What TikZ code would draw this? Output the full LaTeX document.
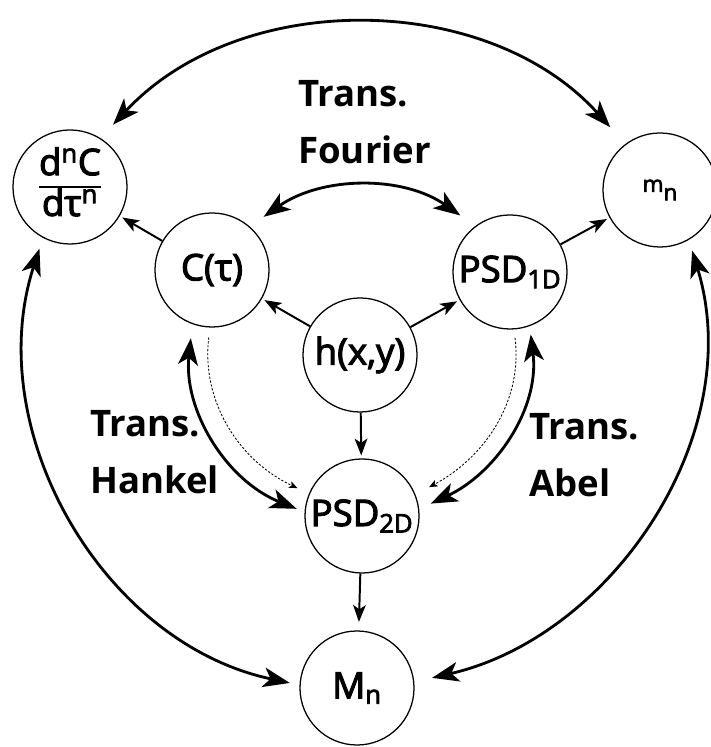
\documentclass[tikz,border=0pt]{standalone}
\usepackage{fontspec}
\setmainfont{Open Sans}
\newfontface\nodefont{Open Sans}[FakeBold=3]
\usetikzlibrary{arrows.meta,positioning}

\setlength\arrayrulewidth{1.6pt}
\tikzset{
  etat/.style={circle,draw,line width=0.9pt,minimum size=2.85cm,inner sep=0pt,font=\nodefont\fontsize{26}{30}\selectfont},
  fleche/.style={line width=1.4pt,shorten >=2pt,-{Stealth[length=12pt,width=9pt,inset=3pt]}},
  grande/.style={line width=2pt,{Stealth[length=19pt,width=14pt,inset=5pt]}-{Stealth[length=19pt,width=14pt,inset=5pt]}},
  pointille/.style={line width=0.6pt,dash pattern=on 1.6pt off 1.2pt,-{Stealth[length=6pt,width=5pt,inset=1.5pt]}},
  trans/.style={align=left,inner sep=0pt,anchor=north west,font=\bfseries\fontsize{26}{40.5}\selectfont},
}

\begin{document}
\begin{tikzpicture}[x=0.025cm,y=0.025cm]
  \useasboundingbox (0,0) rectangle (710,747);
  % les grandeurs
  \node[etat] (hxy) at (360,392) {h(x,y)};
  \node[etat] (ctau) at (212,477) {C(τ)};
  \node[etat] (psdun) at (510,475) {PSD\textsubscript{1D}};
  \node[etat] (psddeux) at (362,231) {PSD\textsubscript{2D}};
  \node[etat] (Mn) at (357,59) {M\textsubscript{n}};
  \node[etat] (dnc) at (70,560) {\renewcommand\arraystretch{0.85}\begin{tabular}{@{}c@{}}d\textsuperscript{n}C\\\hline dτ\textsuperscript{n}\end{tabular}};
  \node[etat] (mn) at (660,557) {\fontsize{16}{18}\selectfont m\raisebox{-6pt}{n}};
  % fleches simples
  \draw[fleche] (ctau) -- (dnc);
  \draw[fleche] (psdun) -- (mn);
  \draw[fleche] (hxy) -- (ctau);
  \draw[fleche] (hxy) -- (psdun);
  \draw[fleche] (hxy) -- (psddeux);
  \draw[fleche,shorten >=6pt] (psddeux) -- (Mn);
  % transformations
  \draw[grande,shorten <=12pt,shorten >=13pt] (ctau.49) to[out=35,in=145] (psdun.127);
  \draw[grande,shorten <=10pt,shorten >=6pt] (ctau.250) to[out=264,in=158] (psddeux.176);
  \draw[grande,shorten <=6pt,shorten >=9pt] (psdun.290) to[out=277,in=25] (psddeux.7);
  \draw[pointille,shorten <=7pt,shorten >=9pt] (ctau.268) to[out=263,in=155] (psddeux.157);
  \draw[pointille,shorten <=6pt,shorten >=11pt] (psdun.274) to[out=277,in=28] (psddeux.22);
  % grands arcs
  \draw[grande,shorten <=13pt,shorten >=16pt] (dnc.58) to[out=47,in=132] (mn.127);
  \draw[grande,shorten <=8pt,shorten >=7pt] (dnc.242) to[out=252,in=168] (Mn.177);
  \draw[grande,shorten <=8pt,shorten >=13pt] (mn.300) to[out=287,in=13] (Mn.6);
  % etiquettes
  \node[trans] (fourier) at (298,667) {Trans.\\Fourier};
  \node[trans] (hankel) at (90,337) {Trans.\\Hankel};
  \node[trans] (abel) at (529,334) {Trans.\\Abel};
\end{tikzpicture}
\end{document}
